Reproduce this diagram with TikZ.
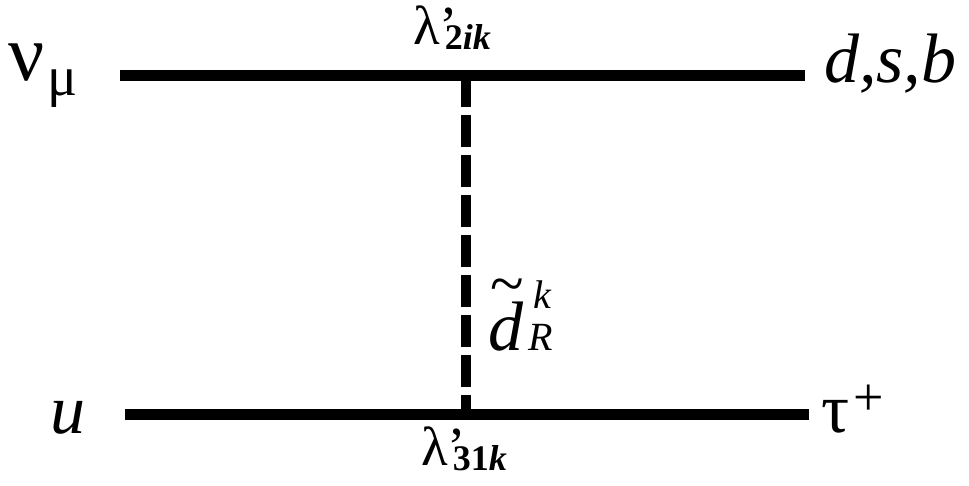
\documentclass[tikz,border=0pt]{standalone}
\usepackage{graphicx}
\usepackage{fontspec}
\setmainfont{Liberation Serif}
\usetikzlibrary{positioning}
\newcommand{\lo}[2]{\raisebox{-#1}{\fontsize{36}{40}\bfseries\selectfont #2}}
\newcommand{\hi}[3]{\raisebox{#1}{\fontsize{#2}{#2}\selectfont #3}}
\newcommand{\sqtilde}{\makebox[0pt][l]{\hspace{2pt}\hi{46pt}{62pt}{\textasciitilde}}}
\tikzset{
  prt/.style={font=\fontsize{70}{78}\selectfont,inner sep=0pt},
  cpl/.style={font=\fontsize{55}{60}\selectfont,inner sep=0pt},
  fer/.style={line width=11pt},
  sqk/.style={line width=10pt,dash pattern=on 32pt off 8pt},
}

\begin{document}
\begin{tikzpicture}[x=1pt,y=-1pt]
  \useasboundingbox (0,0) rectangle (969,485);
  % fermion lines and the squark exchange
  \coordinate (a1) at (120,75);
  \coordinate (a2) at (805,75);
  \coordinate (b1) at (125,414);
  \coordinate (b2) at (809,414);
  \coordinate (v1) at (466,75);
  \coordinate (v2) at (466,414);
  \draw[fer] (a1) -- (a2);
  \draw[fer] (b1) -- (b2);
  \draw[sqk] (v1) -- (v2);
  % external particles
  \node[prt,anchor=base west] (numu) at (8,80) {\hi{0pt}{80pt}{ν}\kern3pt\hi{-15pt}{56pt}{μ}};
  \node[prt,anchor=base west] (dsb) at (824,82) {\textit{d,s,b}};
  \node[prt,anchor=base west] (up) at (50,433) {\textit{u}};
  \node[prt,anchor=base west] (tau) at (821,432) {τ\kern4pt\hi{17pt}{54pt}{+}};
  % couplings and propagator
  \node[cpl,anchor=base west] (lamtop) at (413,44) {λ\rlap{’}\kern5pt\lo{5pt}{2\textit{ik}}};
  \node[cpl,anchor=base west] (lambot) at (421,465) {λ\rlap{’}\kern5pt\lo{5pt}{31\textit{k}}};
  \node[prt,anchor=base west] (sq) at (488,350)
    {\sqtilde\textit{d}\kern5pt\rlap{\kern5pt\hi{42pt}{40pt}{\textit{k}}}\hi{0pt}{40pt}{\textit{R}}};
\end{tikzpicture}
\end{document}
